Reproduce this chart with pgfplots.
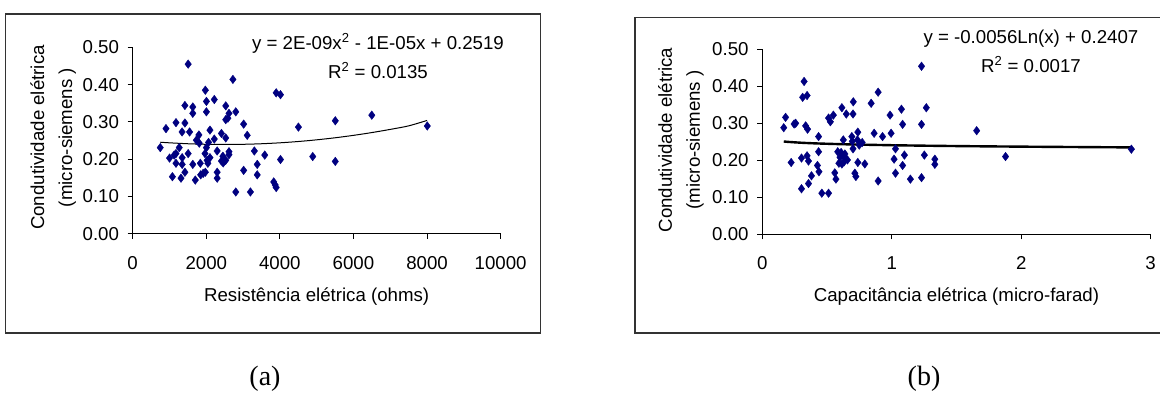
\documentclass[border=0pt]{standalone}
\usepackage{fontspec}
\setmainfont{Liberation Sans}
\newfontfamily\seriffont{Liberation Serif}
\usepackage{pgfplots}
\pgfplotsset{compat=1.18}
\definecolor{navy}{HTML}{000080}
\definecolor{framegray}{HTML}{333333}

\pgfplotsset{
  excel/.style={
    scale only axis,
    axis x line=bottom,
    axis y line=left,
    axis line style={-, black, line width=0.75pt},
    tick style={black, line width=0.75pt},
    tick align=outside,
    major tick length=3.75pt,
    ymin=0, ymax=0.5,
    ytick={0,0.1,0.2,0.3,0.4,0.5},
    scaled x ticks=false,
    scaled y ticks=false,
    /pgf/number format/assume math mode=true,
    ticklabel style={font=\fontsize{14}{16}\selectfont},
    yticklabel style={/pgf/number format/fixed, /pgf/number format/fixed zerofill, /pgf/number format/precision=2, xshift=-3pt},
    xticklabel style={/pgf/number format/1000 sep={}, yshift=-9.5pt},
    label style={font=\fontsize{14}{21}\selectfont},
    ylabel style={align=center, inner sep=0pt},
    xlabel style={inner sep=0pt},
    clip=false,
  },
  pts/.style={only marks, mark=diamond*, mark size=3.2pt, navy, mark options={fill=navy, draw=navy, line width=0.3pt}},
}

\begin{document}
\begin{tikzpicture}
\path[use as bounding box] (0,0) rectangle (870pt,295.5pt);
% frames
\draw[framegray, line width=1.1pt] (4.3pt,45.75pt) rectangle (405.5pt,285pt);
\draw[framegray, line width=1.1pt] (476.25pt,45.75pt) rectangle (890pt,282.5pt);

% ---------------- panel (a)
\begin{axis}[excel,
  at={(99.5pt,120.2pt)}, anchor=origin,
  width=276pt, height=139.8pt,
  xmin=0, xmax=10000,
  xtick={0,2000,4000,6000,8000,10000},
  xlabel={Resistência elétrica (ohms)},
  ylabel={Condutividade elétrica\\(micro-siemens )},
  ylabel style={at={(axis description cs:-0.153,0.516)}, anchor=south},
  xlabel style={at={(axis description cs:0.5,-0.361)}, anchor=base},
]
\addplot[pts] coordinates {
(750,0.231) (905,0.282) (1002,0.203) (1080,0.153) (1128,0.211) (1177,0.215)
(1177,0.298) (1177,0.189) (1265,0.231) (1313,0.149) (1342,0.273) (1345,0.204)
(1345,0.186) (1420,0.344) (1420,0.297) (1420,0.165) (1508,0.455) (1508,0.215)
(1547,0.273) (1634,0.340) (1634,0.323) (1634,0.186) (1702,0.144) (1731,0.251)
(1800,0.265) (1810,0.243) (1838,0.189) (1848,0.158) (1916,0.162) (1975,0.385)
(1965,0.215) (1975,0.165) (2004,0.355) (2004,0.327) (2004,0.231) (2024,0.197)
(2043,0.189) (2062,0.245) (2100,0.278) (2100,0.204) (2218,0.360) (2218,0.254)
(2296,0.222) (2296,0.165) (2296,0.149) (2412,0.269) (2412,0.195) (2451,0.208)
(2461,0.190) (2529,0.343) (2529,0.306) (2529,0.257) (2529,0.197) (2588,0.310)
(2617,0.323) (2617,0.220) (2617,0.212) (2724,0.414) (2802,0.327) (2802,0.112)
(3016,0.294) (3016,0.170) (3113,0.264) (3200,0.112) (3307,0.222) (3385,0.186)
(3385,0.158) (3589,0.211) (3833,0.139) (3872,0.131) (3900,0.124) (3900,0.378)
(4017,0.373) (4017,0.199) (4504,0.286) (4893,0.207) (5506,0.303) (5506,0.194)
(6498,0.318) (8006,0.289)
};
\addplot[black, line width=0.75pt, smooth] coordinates {
(750,0.2455) (1000,0.2439) (1500,0.2414) (2000,0.2399) (2500,0.2394) (3000,0.2399)
(3500,0.2414) (4000,0.2439) (4500,0.2474) (5000,0.2519) (5500,0.2574) (6000,0.2639)
(6500,0.2714) (7000,0.2799) (7500,0.2894) (8000,0.3039)
};
\node[anchor=base, font=\fontsize{14}{16}\selectfont] at (axis cs:6666,0.4954) {y = 2E-09x\textsuperscript{2} - 1E-05x + 0.2519};
\node[anchor=base, font=\fontsize{14}{16}\selectfont] at (axis cs:6666,0.4176) {R\textsuperscript{2} = 0.0135};
\end{axis}

% ---------------- panel (b)
\begin{axis}[excel,
  at={(571.7pt,119.8pt)}, anchor=origin,
  width=291.3pt, height=138.75pt,
  xmin=0, xmax=3,
  xtick={0,1,2,3},
  xlabel={Capacitância elétrica (micro-farad)},
  ylabel={Condutividade elétrica\\(micro-siemens )},
  ylabel style={at={(axis description cs:-0.150,0.51)}, anchor=south},
  xlabel style={at={(axis description cs:0.5,-0.362)}, anchor=base},
]
\addplot[pts] coordinates {
(0.166,0.288) (0.180,0.316) (0.223,0.194) (0.246,0.298) (0.258,0.300) (0.303,0.123)
(0.303,0.206) (0.312,0.370) (0.323,0.413) (0.335,0.293) (0.346,0.375) (0.350,0.284)
(0.346,0.212) (0.357,0.198) (0.357,0.137) (0.380,0.158) (0.426,0.186) (0.435,0.264)
(0.435,0.223) (0.438,0.169) (0.460,0.111) (0.512,0.111) (0.512,0.314) (0.526,0.304)
(0.549,0.322) (0.560,0.166) (0.569,0.149) (0.583,0.223) (0.592,0.192) (0.600,0.208)
(0.609,0.221) (0.615,0.342) (0.615,0.190) (0.626,0.255) (0.626,0.212) (0.632,0.196)
(0.638,0.217) (0.643,0.205) (0.649,0.325) (0.658,0.201) (0.692,0.264) (0.701,0.325)
(0.703,0.358) (0.701,0.231) (0.695,0.251) (0.715,0.165) (0.723,0.156) (0.735,0.255)
(0.738,0.276) (0.738,0.194) (0.749,0.241) (0.772,0.248) (0.792,0.190) (0.841,0.354)
(0.864,0.273) (0.895,0.384) (0.895,0.144) (0.929,0.264) (0.987,0.322) (0.995,0.273)
(1.018,0.203) (1.029,0.231) (1.029,0.165) (1.075,0.338) (1.084,0.297) (1.084,0.186)
(1.098,0.214) (1.144,0.149) (1.230,0.454) (1.230,0.297) (1.230,0.153) (1.252,0.214)
(1.267,0.342) (1.333,0.203) (1.333,0.189) (1.656,0.280) (1.879,0.210) (2.851,0.230)
};
\addplot[black, line width=1.8pt, smooth] coordinates {
(0.166,0.2508) (0.2,0.2497) (0.3,0.2474) (0.4,0.2458) (0.5,0.2446) (0.7,0.2427)
(1.0,0.2407) (1.3,0.2392) (1.7,0.2377) (2.2,0.2363) (2.85,0.2348)
};
\node[anchor=base, font=\fontsize{14}{16}\selectfont] at (axis cs:2.075,0.5143) {y = -0.0056Ln(x) + 0.2407};
\node[anchor=base, font=\fontsize{14}{16}\selectfont] at (axis cs:2.075,0.4368) {R\textsuperscript{2} = 0.0017};
\end{axis}

\node[font=\seriffont\fontsize{21}{24}\selectfont] at (198.75pt,11.5pt) {(a)};
\node[font=\seriffont\fontsize{21}{24}\selectfont] at (693pt,11.5pt) {(b)};
\end{tikzpicture}
\end{document}
